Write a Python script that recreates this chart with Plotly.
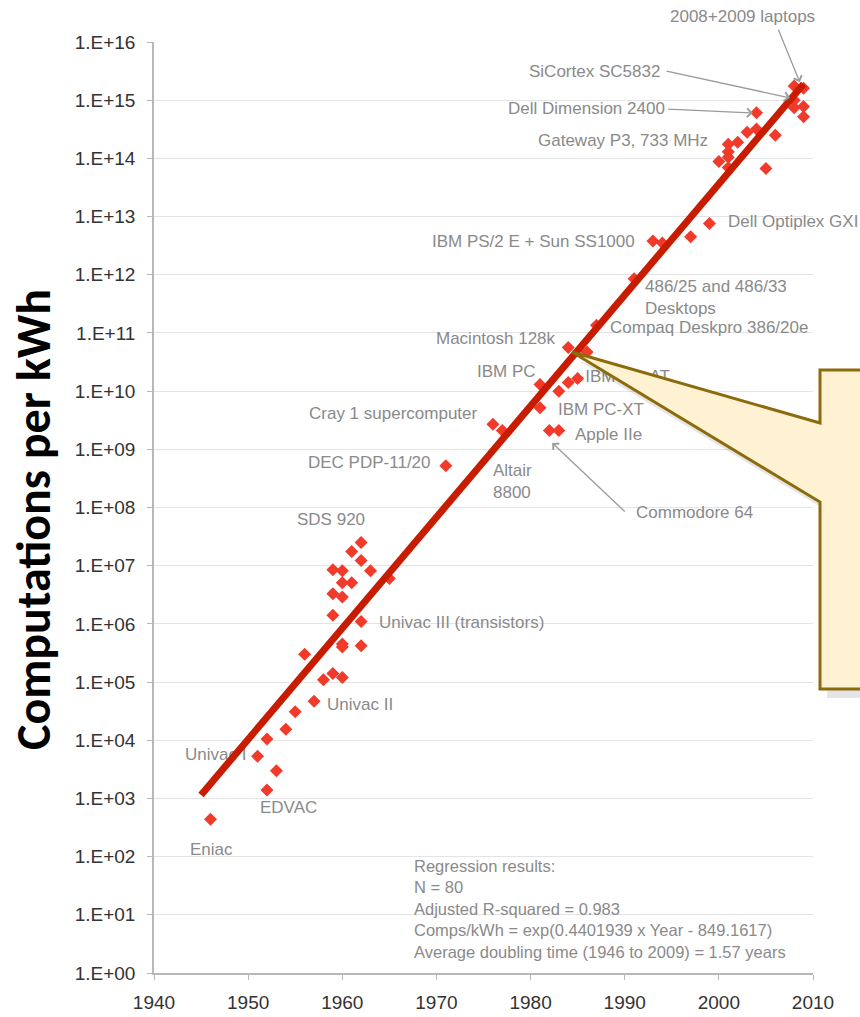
import plotly.graph_objects as go

# ---------------- data ----------------
years = [1946, 1951, 1952, 1952, 1953, 1954, 1955, 1956, 1957, 1958,
         1959, 1959, 1959, 1959, 1960, 1960, 1960, 1960, 1960, 1960,
         1961, 1961, 1962, 1962, 1962, 1962, 1963, 1965,
         1971, 1976, 1977, 1981, 1981, 1982, 1983, 1983, 1984, 1985, 1984, 1986,
         1987, 1991, 1993, 1994, 1997, 1999,
         2000, 2001, 2001, 2001, 2001, 2002, 2003, 2004, 2004, 2005, 2006,
         2008, 2008, 2008, 2009, 2009, 2009]
comps = [4.4e2, 5.3e3, 1.4e3, 1.05e4, 3.0e3, 1.55e4, 3.1e4, 3.0e5, 4.7e4, 1.1e5,
         1.4e5, 1.4e6, 3.3e6, 8.5e6, 1.2e5, 4.0e5, 4.5e5, 2.9e6, 5.1e6, 8.2e6,
         5.1e6, 1.75e7, 4.2e5, 1.1e6, 1.23e7, 2.5e7, 8.2e6, 6.0e6,
         5.2e8, 2.7e9, 2.1e9, 5.2e9, 1.3e10, 2.1e9, 2.1e9, 1.0e10, 1.4e10, 1.65e10, 5.6e10, 4.7e10,
         1.35e11, 8.5e11, 3.8e12, 3.5e12, 4.5e12, 7.6e12,
         8.8e13, 1.05e14, 1.3e14, 1.75e14, 7.0e13, 1.9e14, 2.8e14, 3.2e14, 6.1e14, 6.7e13, 2.5e14,
         1.75e15, 1.0e15, 7.4e14, 1.6e15, 7.8e14, 5.2e14]

fit_years = [1945, 2009]
fit_values = [1.15e3, 1.9e15]

x_ticks = [1940, 1950, 1960, 1970, 1980, 1990, 2000, 2010]
y_exps = list(range(0, 17))
y_ticktext = ["1.E+%02d" % e for e in y_exps]

# labels: (text, year, log10 value, xanchor)
labels = [
    ("SiCortex SC5832", 1993.96, 15.50, "right"),
    ("Dell Dimension 2400", 1994.49, 14.85, "right"),
    ("Gateway P3, 733 MHz", 1999.06, 14.30, "right"),
    ("Dell Optiplex GXI", 2000.76, 12.91, "left"),
    ("IBM PS/2 E + Sun SS1000", 1991.31, 12.58, "right"),
    ("486/25 and 486/33<br>Desktops", 1991.94, 11.61, "left"),
    ("Compaq Deskpro 386/20e", 1988.23, 11.10, "left"),
    ("Macintosh 128k", 1982.91, 10.91, "right"),
    ("IBM PC", 1980.79, 10.33, "right"),
    ("IBM PC-XT", 1982.70, 9.69, "left"),
    ("Apple IIe", 1984.51, 9.26, "left"),
    ("Altair<br>8800", 1975.80, 8.45, "left"),
    ("Commodore 64", 1990.99, 7.91, "left"),
    ("Cray 1 supercomputer", 1974.63, 9.62, "right"),
    ("DEC PDP-11/20", 1956.15, 8.78, "left"),
    ("SDS 920", 1954.98, 7.80, "left"),
    ("Univac III (transistors)", 1963.69, 6.03, "left"),
    ("Univac II", 1958.16, 4.62, "left"),
    ("EDVAC", 1951.05, 2.84, "left"),
    ("Eniac", 1943.61, 2.13, "left"),
]
top_label = "2008+2009 laptops"
# labels partly hidden by other marks (drawn as text traces)
hidden_label_text = ["Univac I", "IBM PC-AT"]
hidden_label_x = [1943.30, 1985.80]
hidden_label_y = [10 ** 3.73, 10 ** 10.23]

# arrows: (head year, head log10, dx px, dy px)
arrows = [
    (2008.6, 15.31, -22, -54),
    (2007.56, 15.04, -125, -27),
    (2003.6, 14.78, -86, -4),
    (1982.3, 9.11, 74, 70),
]

regression_text = ("Regression results:<br>N = 80<br>Adjusted R-squared = 0.983<br>"
                   "Comps/kWh = exp(0.4401939 x Year - 849.1617)<br>"
                   "Average doubling time (1946 to 2009) = 1.57 years")

# ---------------- figure ----------------
W, H = 860, 1017
ML, MR, MT, MB = 154, 47, 42, 44
PW, PH = W - ML - MR, H - MT - MB

def paper(px, py):
    return (px - ML) / PW, (H - MB - py) / PH

LABEL_FONT = dict(family="Liberation Sans, Arial, sans-serif", size=17, color="#8a8a8a")

fig = go.Figure()

fig.add_trace(go.Scatter(
    x=hidden_label_x, y=hidden_label_y, mode="text", text=hidden_label_text,
    textposition="middle right", textfont=LABEL_FONT, cliponaxis=False,
    showlegend=False, hoverinfo="skip"))

fig.add_trace(go.Scatter(
    x=years, y=comps, mode="markers",
    marker=dict(symbol="diamond", size=10, color="#f23a2a", line=dict(width=0)),
    showlegend=False))

fig.add_trace(go.Scatter(
    x=fit_years, y=fit_values, mode="lines",
    line=dict(color="#c81c00", width=7), showlegend=False))

annotations = []
for text, x, y, anchor in labels:
    annotations.append(dict(x=x, y=y, xref="x", yref="y", text=text, showarrow=False,
                            xanchor=anchor, yanchor="middle", align="left", font=LABEL_FONT))
lx, ly = paper(742, 17)
annotations.append(dict(x=lx, y=ly, xref="paper", yref="paper", text=top_label, showarrow=False,
                        xanchor="center", yanchor="middle", font=LABEL_FONT))
for hx, hy, dx, dy in arrows:
    annotations.append(dict(x=hx, y=hy, xref="x", yref="y", text="", showarrow=True,
                            ax=dx, ay=dy, arrowhead=4, arrowsize=1.3, arrowwidth=1.3,
                            arrowcolor="#9a9a9a", standoff=0, startstandoff=0))
annotations.append(dict(x=1967.41, y=1.108, xref="x", yref="y", text=regression_text,
                        showarrow=False, xanchor="left", yanchor="middle", align="left",
                        font=dict(family="Liberation Sans, Arial, sans-serif", size=16.5,
                                  color="#8a8a8a")))
tx, ty = paper(33, 520)
annotations.append(dict(x=tx, y=ty, xref="paper", yref="paper", text="<b>Computations per kWh</b>",
                        showarrow=False, textangle=-90, xanchor="center", yanchor="middle",
                        font=dict(family="Carlito, Lato, sans-serif", size=48, color="#000000")))

# callout shape
callout_px = [(572, 352), (820, 423), (820, 370), (905, 370), (905, 689), (820, 689), (820, 502)]
def path_from(pts, ox=0, oy=0):
    parts = []
    for i, (px, py) in enumerate(pts):
        x, y = paper(px + ox, py + oy)
        parts.append(("M" if i == 0 else "L") + "%.5f,%.5f" % (x, y))
    return " ".join(parts) + " Z"

shapes = [
    dict(type="path", xref="paper", yref="paper", path=path_from(callout_px, 7, 9),
         fillcolor="rgba(0,0,0,0.10)", line=dict(width=0), layer="above"),
    dict(type="path", xref="paper", yref="paper", path=path_from(callout_px),
         fillcolor="#fff2d3", line=dict(color="#8c6b0c", width=3), layer="above"),
]

fig.update_layout(
    width=W, height=H,
    margin=dict(l=ML, r=MR, t=MT, b=MB, autoexpand=False),
    paper_bgcolor="white", plot_bgcolor="white",
    annotations=annotations, shapes=shapes,
    xaxis=dict(range=[1940, 2010], tickvals=x_ticks, ticktext=[str(t) for t in x_ticks],
               showgrid=False, zeroline=False, showline=True, linecolor="#b8b8b8", linewidth=1.5,
               ticks="outside", ticklen=5, tickcolor="#b8b8b8", ticklabelstandoff=6,
               automargin=False,
               tickfont=dict(family="Liberation Sans, Arial, sans-serif", size=19, color="#333333")),
    yaxis=dict(type="log", range=[0, 16], tickvals=[10 ** e for e in y_exps], ticktext=y_ticktext,
               showgrid=True, gridcolor="#e4e4e4", gridwidth=1, zeroline=False,
               showline=True, linecolor="#b8b8b8", linewidth=1.5,
               ticks="outside", ticklen=5, tickcolor="#b8b8b8", ticklabelstandoff=8,
               automargin=False,
               tickfont=dict(family="Liberation Sans, Arial, sans-serif", size=19, color="#333333")),
)

fig.write_html("out.html")
